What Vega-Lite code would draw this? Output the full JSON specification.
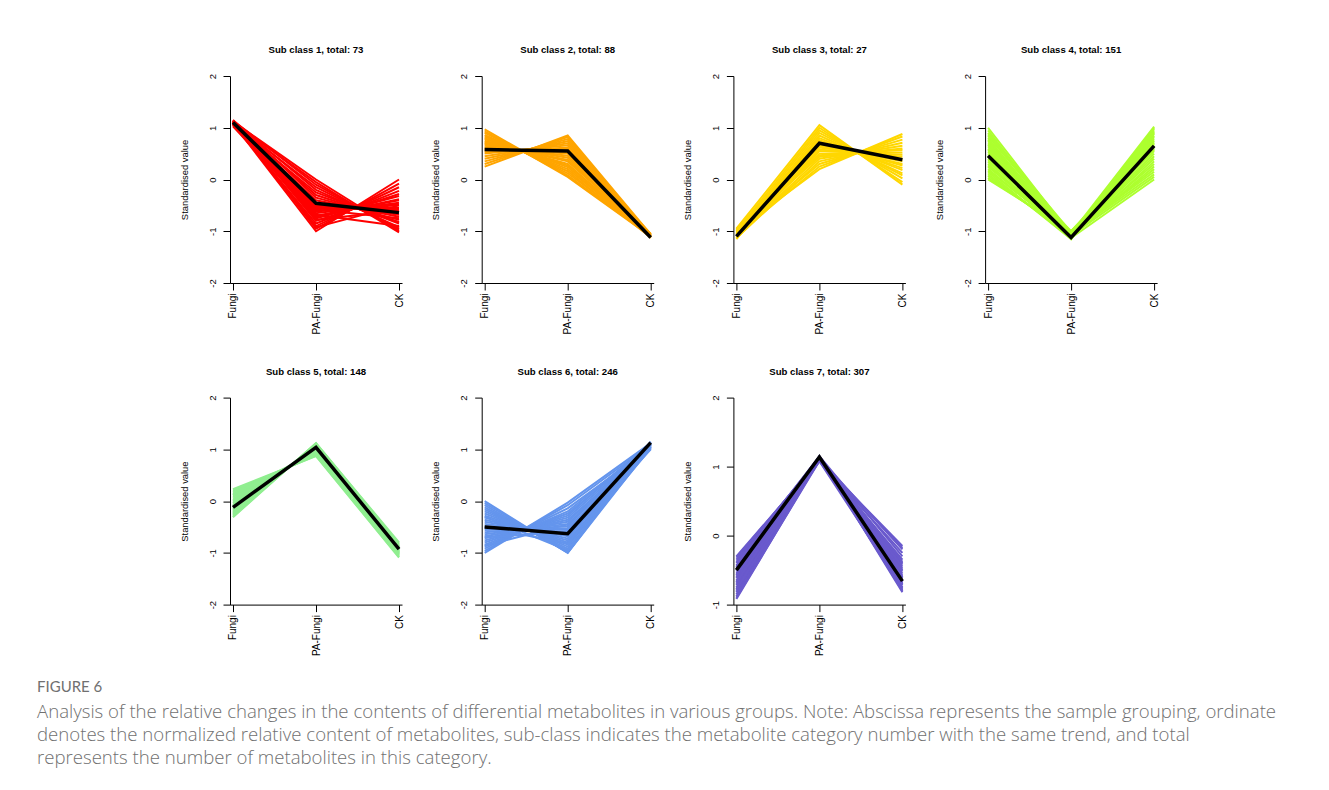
{
"$schema": "https://vega.github.io/schema/vega-lite/v6.json",
"padding": {"left": 37, "top": 45, "right": 5, "bottom": 5},
"background": "white",
"datasets": {"lines": [
{"p":1,"id":0,"Fungi":1.1,"PA-Fungi":-0.46,"CK":-0.64},
{"p":1,"id":1,"Fungi":1.12,"PA-Fungi":0.0,"CK":-1.0},
{"p":1,"id":2,"Fungi":1.10,"PA-Fungi":-0.05,"CK":-1.02},
{"p":1,"id":3,"Fungi":1.14,"PA-Fungi":-0.1,"CK":-0.97},
{"p":1,"id":4,"Fungi":1.08,"PA-Fungi":-0.15,"CK":-0.95},
{"p":1,"id":5,"Fungi":1.13,"PA-Fungi":-0.2,"CK":-0.92},
{"p":1,"id":6,"Fungi":1.06,"PA-Fungi":-0.25,"CK":-0.85},
{"p":1,"id":7,"Fungi":1.11,"PA-Fungi":-0.3,"CK":-0.82},
{"p":1,"id":8,"Fungi":1.15,"PA-Fungi":-0.35,"CK":-0.78},
{"p":1,"id":9,"Fungi":1.09,"PA-Fungi":-0.4,"CK":-0.72},
{"p":1,"id":10,"Fungi":1.12,"PA-Fungi":-0.45,"CK":-0.68},
{"p":1,"id":11,"Fungi":1.05,"PA-Fungi":-0.5,"CK":-0.62},
{"p":1,"id":12,"Fungi":1.13,"PA-Fungi":-0.52,"CK":-0.58},
{"p":1,"id":13,"Fungi":1.10,"PA-Fungi":-0.55,"CK":-0.55},
{"p":1,"id":14,"Fungi":1.07,"PA-Fungi":-0.6,"CK":-0.5},
{"p":1,"id":15,"Fungi":1.14,"PA-Fungi":-0.62,"CK":-0.48},
{"p":1,"id":16,"Fungi":1.11,"PA-Fungi":-0.65,"CK":-0.45},
{"p":1,"id":17,"Fungi":1.03,"PA-Fungi":-0.7,"CK":-0.4},
{"p":1,"id":18,"Fungi":1.12,"PA-Fungi":-0.72,"CK":-0.38},
{"p":1,"id":19,"Fungi":1.09,"PA-Fungi":-0.75,"CK":-0.32},
{"p":1,"id":20,"Fungi":1.13,"PA-Fungi":-0.8,"CK":-0.28},
{"p":1,"id":21,"Fungi":1.06,"PA-Fungi":-0.85,"CK":-0.22},
{"p":1,"id":22,"Fungi":1.10,"PA-Fungi":-0.9,"CK":-0.15},
{"p":1,"id":23,"Fungi":1.12,"PA-Fungi":-0.95,"CK":-0.08},
{"p":1,"id":24,"Fungi":1.08,"PA-Fungi":-1.0,"CK":0.0},
{"p":1,"id":25,"Fungi":1.11,"PA-Fungi":-0.78,"CK":-0.6},
{"p":1,"id":26,"Fungi":1.09,"PA-Fungi":-0.92,"CK":-0.5},
{"p":1,"id":27,"Fungi":1.13,"PA-Fungi":-0.68,"CK":-0.9},
{"p":1,"id":28,"Fungi":1.07,"PA-Fungi":-0.58,"CK":-0.75},
{"p":2,"id":0,"Fungi":0.58,"PA-Fungi":0.55,"CK":-1.12},
{"p":2,"id":1,"Fungi":0.25,"PA-Fungi":0.85,"CK":-1.06},
{"p":2,"id":2,"Fungi":0.3,"PA-Fungi":0.82,"CK":-1.1},
{"p":2,"id":3,"Fungi":0.35,"PA-Fungi":0.78,"CK":-1.08},
{"p":2,"id":4,"Fungi":0.4,"PA-Fungi":0.74,"CK":-1.12},
{"p":2,"id":5,"Fungi":0.45,"PA-Fungi":0.7,"CK":-1.05},
{"p":2,"id":6,"Fungi":0.5,"PA-Fungi":0.66,"CK":-1.09},
{"p":2,"id":7,"Fungi":0.52,"PA-Fungi":0.62,"CK":-1.11},
{"p":2,"id":8,"Fungi":0.55,"PA-Fungi":0.6,"CK":-1.07},
{"p":2,"id":9,"Fungi":0.58,"PA-Fungi":0.57,"CK":-1.13},
{"p":2,"id":10,"Fungi":0.6,"PA-Fungi":0.52,"CK":-1.08},
{"p":2,"id":11,"Fungi":0.62,"PA-Fungi":0.5,"CK":-1.1},
{"p":2,"id":12,"Fungi":0.65,"PA-Fungi":0.46,"CK":-1.06},
{"p":2,"id":13,"Fungi":0.68,"PA-Fungi":0.42,"CK":-1.12},
{"p":2,"id":14,"Fungi":0.7,"PA-Fungi":0.38,"CK":-1.09},
{"p":2,"id":15,"Fungi":0.72,"PA-Fungi":0.35,"CK":-1.07},
{"p":2,"id":16,"Fungi":0.75,"PA-Fungi":0.3,"CK":-1.11},
{"p":2,"id":17,"Fungi":0.78,"PA-Fungi":0.27,"CK":-1.05},
{"p":2,"id":18,"Fungi":0.8,"PA-Fungi":0.24,"CK":-1.1},
{"p":2,"id":19,"Fungi":0.83,"PA-Fungi":0.2,"CK":-1.08},
{"p":2,"id":20,"Fungi":0.86,"PA-Fungi":0.16,"CK":-1.12},
{"p":2,"id":21,"Fungi":0.9,"PA-Fungi":0.12,"CK":-1.06},
{"p":2,"id":22,"Fungi":0.93,"PA-Fungi":0.08,"CK":-1.09},
{"p":2,"id":23,"Fungi":0.97,"PA-Fungi":0.05,"CK":-1.1},
{"p":3,"id":0,"Fungi":-1.1,"PA-Fungi":0.7,"CK":0.38},
{"p":3,"id":1,"Fungi":-0.95,"PA-Fungi":1.05,"CK":-0.1},
{"p":3,"id":2,"Fungi":-1.0,"PA-Fungi":1.0,"CK":-0.05},
{"p":3,"id":3,"Fungi":-1.05,"PA-Fungi":0.95,"CK":0.02},
{"p":3,"id":4,"Fungi":-1.1,"PA-Fungi":0.9,"CK":0.08},
{"p":3,"id":5,"Fungi":-1.15,"PA-Fungi":0.85,"CK":0.12},
{"p":3,"id":6,"Fungi":-0.98,"PA-Fungi":0.8,"CK":0.18},
{"p":3,"id":7,"Fungi":-1.02,"PA-Fungi":0.76,"CK":0.22},
{"p":3,"id":8,"Fungi":-1.08,"PA-Fungi":0.72,"CK":0.27},
{"p":3,"id":9,"Fungi":-1.12,"PA-Fungi":0.68,"CK":0.3},
{"p":3,"id":10,"Fungi":-0.96,"PA-Fungi":0.65,"CK":0.35},
{"p":3,"id":11,"Fungi":-1.04,"PA-Fungi":0.62,"CK":0.39},
{"p":3,"id":12,"Fungi":-1.1,"PA-Fungi":0.58,"CK":0.44},
{"p":3,"id":13,"Fungi":-1.14,"PA-Fungi":0.55,"CK":0.48},
{"p":3,"id":14,"Fungi":-1.0,"PA-Fungi":0.5,"CK":0.52},
{"p":3,"id":15,"Fungi":-1.06,"PA-Fungi":0.47,"CK":0.57},
{"p":3,"id":16,"Fungi":-0.97,"PA-Fungi":0.44,"CK":0.6},
{"p":3,"id":17,"Fungi":-1.09,"PA-Fungi":0.4,"CK":0.65},
{"p":3,"id":18,"Fungi":-1.13,"PA-Fungi":0.35,"CK":0.71},
{"p":3,"id":19,"Fungi":-1.03,"PA-Fungi":0.3,"CK":0.77},
{"p":3,"id":20,"Fungi":-1.07,"PA-Fungi":0.25,"CK":0.83},
{"p":3,"id":21,"Fungi":-0.99,"PA-Fungi":0.2,"CK":0.88},
{"p":4,"id":0,"Fungi":0.46,"PA-Fungi":-1.12,"CK":0.65},
{"p":4,"id":1,"Fungi":0.0,"PA-Fungi":-1.0,"CK":0.65},
{"p":4,"id":2,"Fungi":0.03,"PA-Fungi":-1.04,"CK":0.9},
{"p":4,"id":3,"Fungi":0.07,"PA-Fungi":-1.08,"CK":0.4},
{"p":4,"id":4,"Fungi":0.1,"PA-Fungi":-1.12,"CK":1.0},
{"p":4,"id":5,"Fungi":0.14,"PA-Fungi":-1.15,"CK":0.75},
{"p":4,"id":6,"Fungi":0.17,"PA-Fungi":-1.06,"CK":0.2},
{"p":4,"id":7,"Fungi":0.2,"PA-Fungi":-1.1,"CK":0.85},
{"p":4,"id":8,"Fungi":0.24,"PA-Fungi":-1.02,"CK":0.55},
{"p":4,"id":9,"Fungi":0.27,"PA-Fungi":-1.13,"CK":0.95},
{"p":4,"id":10,"Fungi":0.3,"PA-Fungi":-1.07,"CK":0.3},
{"p":4,"id":11,"Fungi":0.34,"PA-Fungi":-1.0,"CK":0.7},
{"p":4,"id":12,"Fungi":0.37,"PA-Fungi":-1.04,"CK":1.02},
{"p":4,"id":13,"Fungi":0.4,"PA-Fungi":-1.08,"CK":0.05},
{"p":4,"id":14,"Fungi":0.44,"PA-Fungi":-1.12,"CK":0.6},
{"p":4,"id":15,"Fungi":0.47,"PA-Fungi":-1.15,"CK":0.88},
{"p":4,"id":16,"Fungi":0.5,"PA-Fungi":-1.06,"CK":0.45},
{"p":4,"id":17,"Fungi":0.54,"PA-Fungi":-1.1,"CK":0.78},
{"p":4,"id":18,"Fungi":0.57,"PA-Fungi":-1.02,"CK":0.15},
{"p":4,"id":19,"Fungi":0.6,"PA-Fungi":-1.13,"CK":0.98},
{"p":4,"id":20,"Fungi":0.64,"PA-Fungi":-1.07,"CK":0.5},
{"p":4,"id":21,"Fungi":0.67,"PA-Fungi":-1.0,"CK":0.68},
{"p":4,"id":22,"Fungi":0.7,"PA-Fungi":-1.04,"CK":0.1},
{"p":4,"id":23,"Fungi":0.74,"PA-Fungi":-1.08,"CK":0.92},
{"p":4,"id":24,"Fungi":0.77,"PA-Fungi":-1.12,"CK":0.35},
{"p":4,"id":25,"Fungi":0.8,"PA-Fungi":-1.15,"CK":0.82},
{"p":4,"id":26,"Fungi":0.84,"PA-Fungi":-1.06,"CK":0.62},
{"p":4,"id":27,"Fungi":0.87,"PA-Fungi":-1.1,"CK":0.25},
{"p":4,"id":28,"Fungi":0.9,"PA-Fungi":-1.02,"CK":0.72},
{"p":4,"id":29,"Fungi":0.95,"PA-Fungi":-1.13,"CK":0.0},
{"p":4,"id":30,"Fungi":1.0,"PA-Fungi":-1.07,"CK":0.58},
{"p":5,"id":0,"Fungi":-0.12,"PA-Fungi":1.04,"CK":-0.93},
{"p":5,"id":1,"Fungi":0.23,"PA-Fungi":0.87,"CK":-1.09},
{"p":5,"id":2,"Fungi":0.2,"PA-Fungi":0.88,"CK":-1.08},
{"p":5,"id":3,"Fungi":0.17,"PA-Fungi":0.9,"CK":-1.06},
{"p":5,"id":4,"Fungi":0.14,"PA-Fungi":0.91,"CK":-1.05},
{"p":5,"id":5,"Fungi":0.11,"PA-Fungi":0.93,"CK":-1.03},
{"p":5,"id":6,"Fungi":0.08,"PA-Fungi":0.94,"CK":-1.02},
{"p":5,"id":7,"Fungi":0.05,"PA-Fungi":0.95,"CK":-1.01},
{"p":5,"id":8,"Fungi":0.02,"PA-Fungi":0.97,"CK":-0.99},
{"p":5,"id":9,"Fungi":-0.01,"PA-Fungi":0.98,"CK":-0.98},
{"p":5,"id":10,"Fungi":-0.04,"PA-Fungi":1.0,"CK":-0.96},
{"p":5,"id":11,"Fungi":-0.07,"PA-Fungi":1.01,"CK":-0.95},
{"p":5,"id":12,"Fungi":-0.1,"PA-Fungi":1.02,"CK":-0.94},
{"p":5,"id":13,"Fungi":-0.12,"PA-Fungi":1.03,"CK":-0.93},
{"p":5,"id":14,"Fungi":-0.14,"PA-Fungi":1.04,"CK":-0.92},
{"p":5,"id":15,"Fungi":-0.16,"PA-Fungi":1.05,"CK":-0.91},
{"p":5,"id":16,"Fungi":-0.18,"PA-Fungi":1.06,"CK":-0.9},
{"p":5,"id":17,"Fungi":-0.2,"PA-Fungi":1.07,"CK":-0.89},
{"p":5,"id":18,"Fungi":-0.22,"PA-Fungi":1.08,"CK":-0.88},
{"p":5,"id":19,"Fungi":-0.24,"PA-Fungi":1.09,"CK":-0.87},
{"p":5,"id":20,"Fungi":-0.26,"PA-Fungi":1.1,"CK":-0.86},
{"p":5,"id":21,"Fungi":-0.28,"PA-Fungi":1.11,"CK":-0.84},
{"p":5,"id":22,"Fungi":-0.3,"PA-Fungi":1.12,"CK":-0.82},
{"p":5,"id":23,"Fungi":-0.31,"PA-Fungi":1.12,"CK":-0.8},
{"p":5,"id":24,"Fungi":-0.08,"PA-Fungi":1.03,"CK":-1.0},
{"p":5,"id":25,"Fungi":0.12,"PA-Fungi":0.95,"CK":-0.97},
{"p":6,"id":0,"Fungi":-0.5,"PA-Fungi":-0.63,"CK":1.13},
{"p":6,"id":1,"Fungi":0.0,"PA-Fungi":-1.0,"CK":1.05},
{"p":6,"id":2,"Fungi":-0.04,"PA-Fungi":-0.99,"CK":1.12},
{"p":6,"id":3,"Fungi":-0.08,"PA-Fungi":-0.99,"CK":1.08},
{"p":6,"id":4,"Fungi":-0.12,"PA-Fungi":-0.96,"CK":1.15},
{"p":6,"id":5,"Fungi":-0.16,"PA-Fungi":-0.92,"CK":1.02},
{"p":6,"id":6,"Fungi":-0.2,"PA-Fungi":-0.88,"CK":1.1},
{"p":6,"id":7,"Fungi":-0.24,"PA-Fungi":-0.84,"CK":1.06},
{"p":6,"id":8,"Fungi":-0.28,"PA-Fungi":-0.8,"CK":1.13},
{"p":6,"id":9,"Fungi":-0.32,"PA-Fungi":-0.76,"CK":1.0},
{"p":6,"id":10,"Fungi":-0.36,"PA-Fungi":-0.72,"CK":1.09},
{"p":6,"id":11,"Fungi":-0.4,"PA-Fungi":-0.68,"CK":1.04},
{"p":6,"id":12,"Fungi":-0.44,"PA-Fungi":-0.64,"CK":1.14},
{"p":6,"id":13,"Fungi":-0.48,"PA-Fungi":-0.6,"CK":1.07},
{"p":6,"id":14,"Fungi":-0.52,"PA-Fungi":-0.56,"CK":1.11},
{"p":6,"id":15,"Fungi":-0.56,"PA-Fungi":-0.52,"CK":1.03},
{"p":6,"id":16,"Fungi":-0.6,"PA-Fungi":-0.48,"CK":1.12},
{"p":6,"id":17,"Fungi":-0.64,"PA-Fungi":-0.44,"CK":1.05},
{"p":6,"id":18,"Fungi":-0.68,"PA-Fungi":-0.4,"CK":1.1},
{"p":6,"id":19,"Fungi":-0.72,"PA-Fungi":-0.36,"CK":1.01},
{"p":6,"id":20,"Fungi":-0.76,"PA-Fungi":-0.32,"CK":1.08},
{"p":6,"id":21,"Fungi":-0.8,"PA-Fungi":-0.28,"CK":1.13},
{"p":6,"id":22,"Fungi":-0.84,"PA-Fungi":-0.24,"CK":1.06},
{"p":6,"id":23,"Fungi":-0.88,"PA-Fungi":-0.2,"CK":1.1},
{"p":6,"id":24,"Fungi":-0.92,"PA-Fungi":-0.14,"CK":1.03},
{"p":6,"id":25,"Fungi":-0.96,"PA-Fungi":-0.08,"CK":1.09},
{"p":6,"id":26,"Fungi":-1.0,"PA-Fungi":-0.03,"CK":1.12},
{"p":6,"id":27,"Fungi":-0.5,"PA-Fungi":-0.82,"CK":1.05},
{"p":6,"id":28,"Fungi":-0.7,"PA-Fungi":-0.6,"CK":1.1},
{"p":6,"id":29,"Fungi":-0.3,"PA-Fungi":-0.95,"CK":1.08},
{"p":6,"id":30,"Fungi":-0.86,"PA-Fungi":-0.45,"CK":1.02},
{"p":7,"id":0,"Fungi":-0.5,"PA-Fungi":1.14,"CK":-0.66},
{"p":7,"id":1,"Fungi":-0.3,"PA-Fungi":1.08,"CK":-0.5},
{"p":7,"id":2,"Fungi":-0.32,"PA-Fungi":1.1,"CK":-0.7},
{"p":7,"id":3,"Fungi":-0.35,"PA-Fungi":1.12,"CK":-0.2},
{"p":7,"id":4,"Fungi":-0.38,"PA-Fungi":1.14,"CK":-0.65},
{"p":7,"id":5,"Fungi":-0.4,"PA-Fungi":1.15,"CK":-0.8},
{"p":7,"id":6,"Fungi":-0.43,"PA-Fungi":1.09,"CK":-0.35},
{"p":7,"id":7,"Fungi":-0.46,"PA-Fungi":1.11,"CK":-0.55},
{"p":7,"id":8,"Fungi":-0.48,"PA-Fungi":1.13,"CK":-0.75},
{"p":7,"id":9,"Fungi":-0.5,"PA-Fungi":1.08,"CK":-0.15},
{"p":7,"id":10,"Fungi":-0.52,"PA-Fungi":1.1,"CK":-0.6},
{"p":7,"id":11,"Fungi":-0.55,"PA-Fungi":1.12,"CK":-0.42},
{"p":7,"id":12,"Fungi":-0.57,"PA-Fungi":1.14,"CK":-0.82},
{"p":7,"id":13,"Fungi":-0.6,"PA-Fungi":1.15,"CK":-0.3},
{"p":7,"id":14,"Fungi":-0.62,"PA-Fungi":1.09,"CK":-0.68},
{"p":7,"id":15,"Fungi":-0.65,"PA-Fungi":1.11,"CK":-0.48},
{"p":7,"id":16,"Fungi":-0.67,"PA-Fungi":1.13,"CK":-0.72},
{"p":7,"id":17,"Fungi":-0.7,"PA-Fungi":1.08,"CK":-0.25},
{"p":7,"id":18,"Fungi":-0.72,"PA-Fungi":1.1,"CK":-0.58},
{"p":7,"id":19,"Fungi":-0.75,"PA-Fungi":1.12,"CK":-0.78},
{"p":7,"id":20,"Fungi":-0.77,"PA-Fungi":1.14,"CK":-0.4},
{"p":7,"id":21,"Fungi":-0.8,"PA-Fungi":1.15,"CK":-0.62},
{"p":7,"id":22,"Fungi":-0.82,"PA-Fungi":1.09,"CK":-0.18},
{"p":7,"id":23,"Fungi":-0.85,"PA-Fungi":1.11,"CK":-0.7},
{"p":7,"id":24,"Fungi":-0.88,"PA-Fungi":1.13,"CK":-0.52},
{"p":7,"id":25,"Fungi":-0.9,"PA-Fungi":1.08,"CK":-0.76},
{"p":7,"id":26,"Fungi":-0.92,"PA-Fungi":1.1,"CK":-0.66},
{"p":7,"id":27,"Fungi":-0.45,"PA-Fungi":1.12,"CK":-0.45},
{"p":7,"id":28,"Fungi":-0.58,"PA-Fungi":1.14,"CK":-0.8},
{"p":7,"id":29,"Fungi":-0.68,"PA-Fungi":1.11,"CK":-0.38},
{"p":7,"id":30,"Fungi":-0.78,"PA-Fungi":1.13,"CK":-0.6}
]},
"columns": 4,
"bounds": "flush",
"spacing": {"row": 114.6, "column": 79.7},
"title": {
  "text": "FIGURE 6",
  "subtitle": [
    "Analysis of the relative changes in the contents of differential metabolites in various groups. Note: Abscissa represents the sample grouping, ordinate",
    "denotes the normalized relative content of metabolites, sub-class indicates the metabolite category number with the same trend, and total",
    "represents the number of metabolites in this category."
  ],
  "orient": "bottom", "anchor": "start", "frame": "bounds", "dx": -142, "offset": 24,
  "font": "Lato", "fontSize": 15, "fontWeight": "normal", "color": "#707070",
  "subtitleFont": "Open Sans", "subtitleFontSize": 18.6, "subtitleFontWeight": 300, "subtitleColor": "#707070",
  "subtitleLineHeight": 23, "subtitlePadding": 8
},
"concat": [
{"width":172,"height":207,"data":{"name":"lines"},
 "transform":[{"filter":"datum.p == 1"},{"fold":["Fungi","PA-Fungi","CK"],"as":["group","value"]}],
 "title":{"text":"Sub class 1, total: 73"},
 "encoding":{
  "x":{"field":"group","type":"nominal","sort":["Fungi","PA-Fungi","CK"],"scale":{"type":"point","padding":0.036},"axis":{"title":null,"labelAngle":-90,"labelAlign":"right","labelBaseline":"middle"}},
  "y":{"field":"value","type":"quantitative","scale":{"domain":[-2,2],"nice":false,"zero":false},"axis":{"values":[-2,-1,0,1,2],"title":"Standardised value","labelAngle":-90,"labelAlign":"center","labelBaseline":"middle"}},
  "detail":{"field":"id","type":"nominal"}},
 "layer":[
  {"transform":[{"filter":"datum.id > 0"}],"mark":{"type":"line","color":"#FF0000","strokeWidth":2}},
  {"transform":[{"filter":"datum.id == 0"}],"mark":{"type":"line","color":"black","strokeWidth":3.5}}]},
{"width":172,"height":207,"data":{"name":"lines"},
 "transform":[{"filter":"datum.p == 2"},{"fold":["Fungi","PA-Fungi","CK"],"as":["group","value"]}],
 "title":{"text":"Sub class 2, total: 88"},
 "encoding":{
  "x":{"field":"group","type":"nominal","sort":["Fungi","PA-Fungi","CK"],"scale":{"type":"point","padding":0.036},"axis":{"title":null,"labelAngle":-90,"labelAlign":"right","labelBaseline":"middle"}},
  "y":{"field":"value","type":"quantitative","scale":{"domain":[-2,2],"nice":false,"zero":false},"axis":{"values":[-2,-1,0,1,2],"title":"Standardised value","labelAngle":-90,"labelAlign":"center","labelBaseline":"middle"}},
  "detail":{"field":"id","type":"nominal"}},
 "layer":[
  {"transform":[{"filter":"datum.id > 0"}],"mark":{"type":"line","color":"#FFA500","strokeWidth":2}},
  {"transform":[{"filter":"datum.id == 0"}],"mark":{"type":"line","color":"black","strokeWidth":3.5}}]},
{"width":172,"height":207,"data":{"name":"lines"},
 "transform":[{"filter":"datum.p == 3"},{"fold":["Fungi","PA-Fungi","CK"],"as":["group","value"]}],
 "title":{"text":"Sub class 3, total: 27"},
 "encoding":{
  "x":{"field":"group","type":"nominal","sort":["Fungi","PA-Fungi","CK"],"scale":{"type":"point","padding":0.036},"axis":{"title":null,"labelAngle":-90,"labelAlign":"right","labelBaseline":"middle"}},
  "y":{"field":"value","type":"quantitative","scale":{"domain":[-2,2],"nice":false,"zero":false},"axis":{"values":[-2,-1,0,1,2],"title":"Standardised value","labelAngle":-90,"labelAlign":"center","labelBaseline":"middle"}},
  "detail":{"field":"id","type":"nominal"}},
 "layer":[
  {"transform":[{"filter":"datum.id > 0"}],"mark":{"type":"line","color":"#FFD700","strokeWidth":2}},
  {"transform":[{"filter":"datum.id == 0"}],"mark":{"type":"line","color":"black","strokeWidth":3.5}}]},
{"width":172,"height":207,"data":{"name":"lines"},
 "transform":[{"filter":"datum.p == 4"},{"fold":["Fungi","PA-Fungi","CK"],"as":["group","value"]}],
 "title":{"text":"Sub class 4, total: 151"},
 "encoding":{
  "x":{"field":"group","type":"nominal","sort":["Fungi","PA-Fungi","CK"],"scale":{"type":"point","padding":0.036},"axis":{"title":null,"labelAngle":-90,"labelAlign":"right","labelBaseline":"middle"}},
  "y":{"field":"value","type":"quantitative","scale":{"domain":[-2,2],"nice":false,"zero":false},"axis":{"values":[-2,-1,0,1,2],"title":"Standardised value","labelAngle":-90,"labelAlign":"center","labelBaseline":"middle"}},
  "detail":{"field":"id","type":"nominal"}},
 "layer":[
  {"transform":[{"filter":"datum.id > 0"}],"mark":{"type":"line","color":"#ADFF2F","strokeWidth":2}},
  {"transform":[{"filter":"datum.id == 0"}],"mark":{"type":"line","color":"black","strokeWidth":3.5}}]},
{"width":172,"height":207,"data":{"name":"lines"},
 "transform":[{"filter":"datum.p == 5"},{"fold":["Fungi","PA-Fungi","CK"],"as":["group","value"]}],
 "title":{"text":"Sub class 5, total: 148"},
 "encoding":{
  "x":{"field":"group","type":"nominal","sort":["Fungi","PA-Fungi","CK"],"scale":{"type":"point","padding":0.036},"axis":{"title":null,"labelAngle":-90,"labelAlign":"right","labelBaseline":"middle"}},
  "y":{"field":"value","type":"quantitative","scale":{"domain":[-2,2],"nice":false,"zero":false},"axis":{"values":[-2,-1,0,1,2],"title":"Standardised value","labelAngle":-90,"labelAlign":"center","labelBaseline":"middle"}},
  "detail":{"field":"id","type":"nominal"}},
 "layer":[
  {"transform":[{"filter":"datum.id > 0"}],"mark":{"type":"line","color":"#90EE90","strokeWidth":2}},
  {"transform":[{"filter":"datum.id == 0"}],"mark":{"type":"line","color":"black","strokeWidth":3.5}}]},
{"width":172,"height":207,"data":{"name":"lines"},
 "transform":[{"filter":"datum.p == 6"},{"fold":["Fungi","PA-Fungi","CK"],"as":["group","value"]}],
 "title":{"text":"Sub class 6, total: 246"},
 "encoding":{
  "x":{"field":"group","type":"nominal","sort":["Fungi","PA-Fungi","CK"],"scale":{"type":"point","padding":0.036},"axis":{"title":null,"labelAngle":-90,"labelAlign":"right","labelBaseline":"middle"}},
  "y":{"field":"value","type":"quantitative","scale":{"domain":[-2,2],"nice":false,"zero":false},"axis":{"values":[-2,-1,0,1,2],"title":"Standardised value","labelAngle":-90,"labelAlign":"center","labelBaseline":"middle"}},
  "detail":{"field":"id","type":"nominal"}},
 "layer":[
  {"transform":[{"filter":"datum.id > 0"}],"mark":{"type":"line","color":"#6495ED","strokeWidth":2}},
  {"transform":[{"filter":"datum.id == 0"}],"mark":{"type":"line","color":"black","strokeWidth":3.5}}]},
{"width":172,"height":207,"data":{"name":"lines"},
 "transform":[{"filter":"datum.p == 7"},{"fold":["Fungi","PA-Fungi","CK"],"as":["group","value"]}],
 "title":{"text":"Sub class 7, total: 307"},
 "encoding":{
  "x":{"field":"group","type":"nominal","sort":["Fungi","PA-Fungi","CK"],"scale":{"type":"point","padding":0.036},"axis":{"title":null,"labelAngle":-90,"labelAlign":"right","labelBaseline":"middle"}},
  "y":{"field":"value","type":"quantitative","scale":{"domain":[-1,2],"nice":false,"zero":false},"axis":{"values":[-1,0,1,2],"title":"Standardised value","labelAngle":-90,"labelAlign":"center","labelBaseline":"middle"}},
  "detail":{"field":"id","type":"nominal"}},
 "layer":[
  {"transform":[{"filter":"datum.id > 0"}],"mark":{"type":"line","color":"#6A5ACD","strokeWidth":2}},
  {"transform":[{"filter":"datum.id == 0"}],"mark":{"type":"line","color":"black","strokeWidth":3.5}}]}
],
"config": {
  "view": {"stroke": null},
  "font": "Liberation Sans",
  "title": {"fontSize": 9.6, "fontWeight": "bold", "offset": 18.7, "color": "black", "font": "Liberation Sans"},
  "axis": {"grid": false, "domainColor": "black", "tickColor": "black", "labelColor": "black", "titleColor": "black",
           "labelFont": "Liberation Sans", "titleFont": "Liberation Sans", "tickSize": 7, "domainWidth": 1, "tickWidth": 1},
  "axisX": {"labelFontSize": 10, "labelPadding": 3},
  "axisY": {"labelFontSize": 9.5, "labelPadding": 11, "titleFontSize": 9.4, "titleFontWeight": "normal", "titlePadding": 18, "labelExpr": "'' + datum.value"},
  "line": {"strokeCap": "butt", "strokeJoin": "miter"}
}
}
